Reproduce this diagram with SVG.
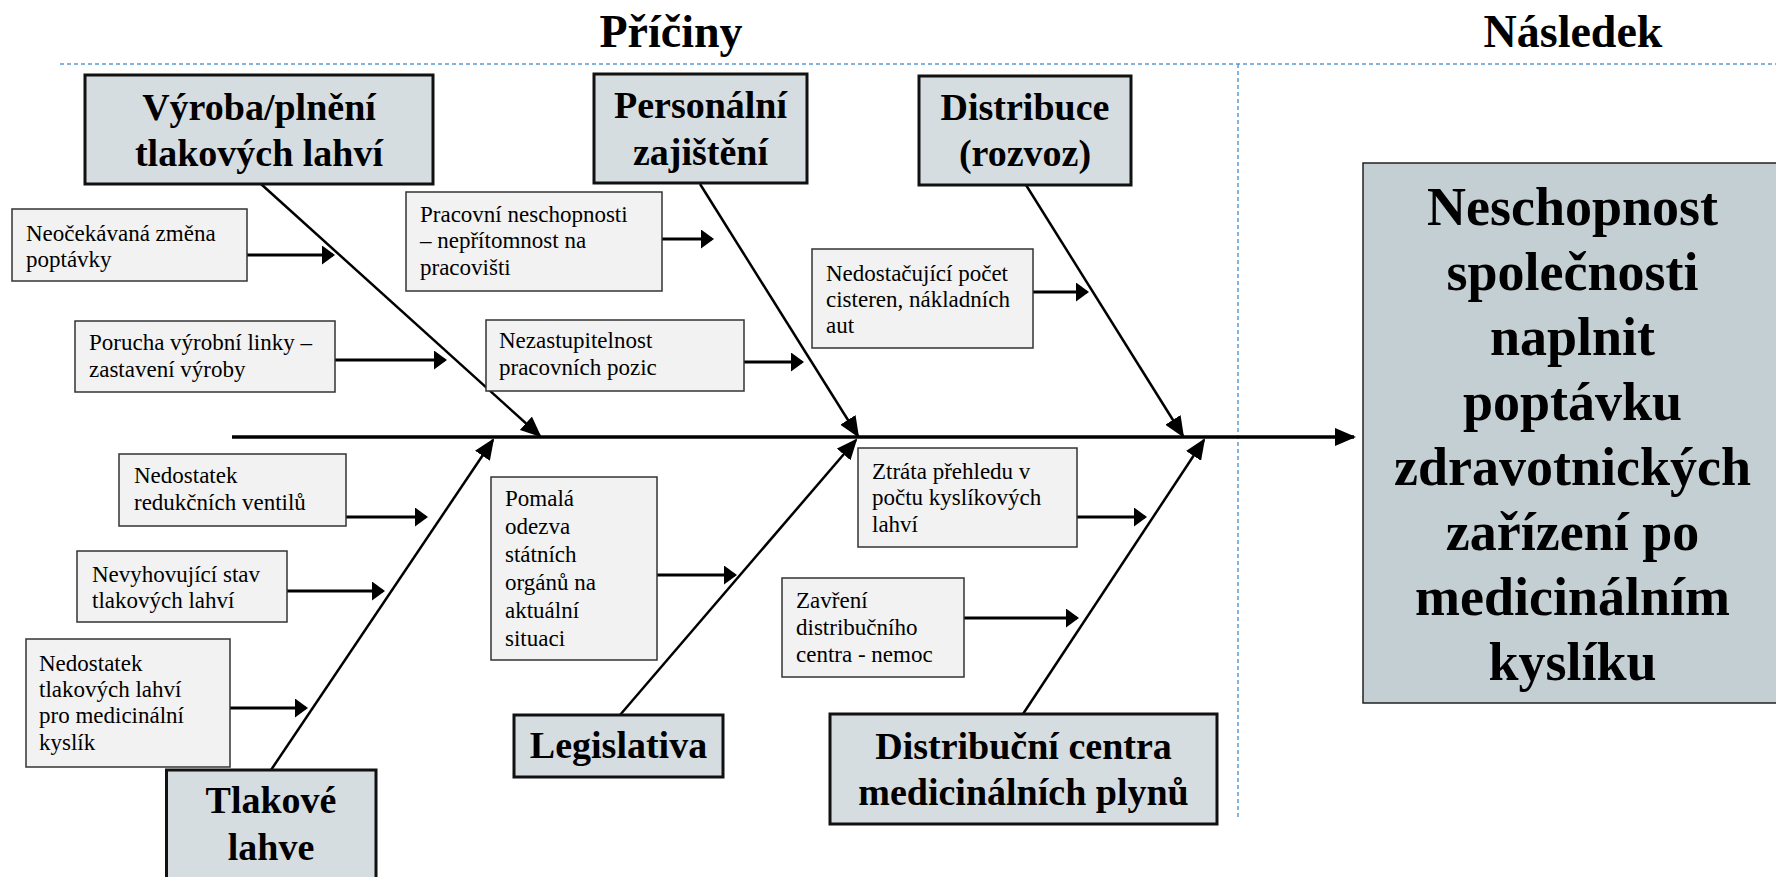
<svg xmlns="http://www.w3.org/2000/svg" width="1776" height="877" viewBox="0 0 1776 877">
<style>
.title{font-family:"Liberation Serif","Times New Roman",serif;font-weight:bold;font-size:46px;fill:#000;text-anchor:middle}
.cat rect{fill:#D6DDE0;stroke:#111;stroke-width:3}
.cat text{font-family:"Liberation Serif","Times New Roman",serif;font-weight:bold;font-size:38px;fill:#000;text-anchor:middle}
.cause rect{fill:#F2F2F2;stroke:#333;stroke-width:1.5}
.cause text{font-family:"Liberation Serif","Times New Roman",serif;font-size:23px;fill:#000}
.effect rect{fill:#C4CFD4;stroke:#222;stroke-width:1.5}
.effect text{font-family:"Liberation Serif","Times New Roman",serif;font-weight:bold;font-size:54px;fill:#000;text-anchor:middle}
.guide{stroke:#5B9BD5;stroke-width:1.5;stroke-dasharray:4 3;fill:none}
.spine{stroke:#000;stroke-width:3.5;fill:none}
.bone{stroke:#000;stroke-width:2.5;fill:none}
.sub{stroke:#000;stroke-width:3;fill:none}
</style>
<defs>
<marker id="ahS" markerUnits="userSpaceOnUse" markerWidth="13" markerHeight="19" refX="11" refY="9.5" orient="auto"><path d="M0,0 L13,9.5 L0,19 z" fill="#000"/></marker>
<marker id="ahL" markerUnits="userSpaceOnUse" markerWidth="21" markerHeight="18" refX="19" refY="9" orient="auto"><path d="M0,0 L21,9 L0,18 z" fill="#000"/></marker>
</defs>
<rect width="1776" height="877" fill="#fff"/>
<g id="titles">
<text class="title" x="671" y="47">Příčiny</text>
<text class="title" x="1573" y="47">Následek</text>
</g>
<g id="guides">
<line class="guide" x1="60" y1="64" x2="1776" y2="64"/>
<line class="guide" x1="1238" y1="64" x2="1238" y2="818"/>
</g>
<g id="connectors">
<line class="spine" x1="232" y1="437" x2="1354" y2="437" marker-end="url(#ahL)"/>
<line class="bone" x1="261" y1="184" x2="540" y2="436" marker-end="url(#ahL)"/>
<line class="bone" x1="700" y1="184" x2="858" y2="436" marker-end="url(#ahL)"/>
<line class="bone" x1="1026" y1="185" x2="1183" y2="436" marker-end="url(#ahL)"/>
<line class="bone" x1="271" y1="770" x2="493" y2="440" marker-end="url(#ahL)"/>
<line class="bone" x1="620" y1="715" x2="856" y2="440" marker-end="url(#ahL)"/>
<line class="bone" x1="1023" y1="714" x2="1204" y2="440" marker-end="url(#ahL)"/>
<line class="sub" x1="247" y1="255" x2="333" y2="255" marker-end="url(#ahS)"/>
<line class="sub" x1="335" y1="360" x2="445" y2="360" marker-end="url(#ahS)"/>
<line class="sub" x1="662" y1="239" x2="712" y2="239" marker-end="url(#ahS)"/>
<line class="sub" x1="744" y1="362" x2="802" y2="362" marker-end="url(#ahS)"/>
<line class="sub" x1="1033" y1="292" x2="1087" y2="292" marker-end="url(#ahS)"/>
<line class="sub" x1="346" y1="517" x2="426" y2="517" marker-end="url(#ahS)"/>
<line class="sub" x1="287" y1="591" x2="383" y2="591" marker-end="url(#ahS)"/>
<line class="sub" x1="230" y1="708" x2="306" y2="708" marker-end="url(#ahS)"/>
<line class="sub" x1="657" y1="575" x2="735" y2="575" marker-end="url(#ahS)"/>
<line class="sub" x1="1077" y1="517" x2="1145" y2="517" marker-end="url(#ahS)"/>
<line class="sub" x1="964" y1="618" x2="1077" y2="618" marker-end="url(#ahS)"/>
</g>
<g id="cat-vyroba" class="cat"><rect x="85" y="75" width="348" height="109"/><text x="259" y="120">Výroba/plnění</text><text x="259" y="166">tlakových lahví</text></g>
<g id="cat-personalni" class="cat"><rect x="594" y="74" width="213" height="109"/><text x="700.5" y="118">Personální</text><text x="700.5" y="165">zajištění</text></g>
<g id="cat-distribuce" class="cat"><rect x="919" y="76" width="212" height="109"/><text x="1025" y="120">Distribuce</text><text x="1025" y="166">(rozvoz)</text></g>
<g id="cat-tlakove" class="cat"><rect x="166.5" y="770" width="209.5" height="120"/><text x="271" y="813">Tlakové</text><text x="271" y="860">lahve</text></g>
<g id="cat-legislativa" class="cat"><rect x="514" y="715" width="209" height="62"/><text x="618.5" y="758">Legislativa</text></g>
<g id="cat-centra" class="cat"><rect x="830" y="714" width="387" height="110"/><text x="1023.5" y="759">Distribuční centra</text><text x="1023.5" y="805">medicinálních plynů</text></g>
<g id="c1" class="cause"><rect x="12" y="209" width="235" height="72"/><text x="26" y="241">Neočekávaná změna</text><text x="26" y="267">poptávky</text></g>
<g id="c2" class="cause"><rect x="75" y="321" width="260" height="71"/><text x="89" y="350">Porucha výrobní linky –</text><text x="89" y="377">zastavení výroby</text></g>
<g id="c3" class="cause"><rect x="406" y="192" width="256" height="99"/><text x="420" y="222">Pracovní neschopnosti</text><text x="420" y="248">– nepřítomnost na</text><text x="420" y="275">pracovišti</text></g>
<g id="c4" class="cause"><rect x="486" y="320" width="258" height="71"/><text x="499" y="348">Nezastupitelnost</text><text x="499" y="375">pracovních pozic</text></g>
<g id="c5" class="cause"><rect x="812" y="249" width="221" height="99"/><text x="826" y="281">Nedostačující počet</text><text x="826" y="307">cisteren, nákladních</text><text x="826" y="333">aut</text></g>
<g id="c6" class="cause"><rect x="119" y="454" width="227" height="72"/><text x="134" y="483">Nedostatek</text><text x="134" y="510">redukčních ventilů</text></g>
<g id="c7" class="cause"><rect x="77" y="551" width="210" height="71"/><text x="92" y="582">Nevyhovující stav</text><text x="92" y="608">tlakových lahví</text></g>
<g id="c8" class="cause"><rect x="26" y="639" width="204" height="128"/><text x="39" y="671">Nedostatek</text><text x="39" y="697">tlakových lahví</text><text x="39" y="723">pro medicinální</text><text x="39" y="750">kyslík</text></g>
<g id="c9" class="cause"><rect x="491" y="477" width="166" height="183"/><text x="505" y="506">Pomalá</text><text x="505" y="534">odezva</text><text x="505" y="562">státních</text><text x="505" y="590">orgánů na</text><text x="505" y="618">aktuální</text><text x="505" y="646">situaci</text></g>
<g id="c10" class="cause"><rect x="858" y="448" width="219" height="99"/><text x="872" y="479">Ztráta přehledu v</text><text x="872" y="505">počtu kyslíkových</text><text x="872" y="532">lahví</text></g>
<g id="c11" class="cause"><rect x="782" y="578" width="182" height="99"/><text x="796" y="608">Zavření</text><text x="796" y="635">distribučního</text><text x="796" y="662">centra - nemoc</text></g>
<g id="effect" class="effect"><rect x="1363" y="163" width="420" height="540"/>
<text x="1572.5" y="225">Neschopnost</text><text x="1572.5" y="290">společnosti</text><text x="1572.5" y="355">naplnit</text><text x="1572.5" y="420">poptávku</text><text x="1572.5" y="485">zdravotnických</text><text x="1572.5" y="550">zařízení po</text><text x="1572.5" y="615">medicinálním</text><text x="1572.5" y="680">kyslíku</text></g>
</svg>
